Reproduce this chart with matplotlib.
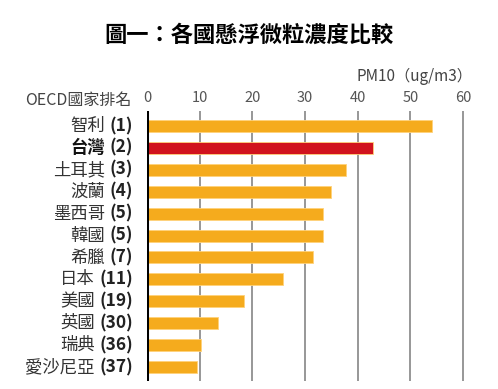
import matplotlib.pyplot as plt

plt.rcParams['font.family'] = ['Noto Sans CJK TC', 'DejaVu Sans']

countries = ['智利', '台灣', '土耳其', '波蘭', '墨西哥', '韓國', '希臘', '日本', '美國', '英國', '瑞典', '愛沙尼亞']
ranks = ['(1)', '(2)', '(3)', '(4)', '(5)', '(5)', '(7)', '(11)', '(19)', '(30)', '(36)', '(37)']
pm10 = [54.2, 42.9, 37.7, 35.0, 33.4, 33.4, 31.6, 25.9, 18.5, 13.4, 10.3, 9.5]
ticks = [0, 10, 20, 30, 40, 50, 60]

orange = '#F5AB1D'
red = '#D1131D'

W, H = 498, 389
fig = plt.figure(figsize=(W / 100, H / 100), dpi=100)

# axes placed in pixel terms: x=0 at 147px, 60 units = 316px
left_px, top_px, bot_px = 147, 111, 381
unit = 316 / 60
xmax = 62
ax = fig.add_axes([left_px / W, 1 - bot_px / H, unit * xmax / W, (bot_px - top_px) / H])

ypos = list(range(len(countries)))
colors = [red if c == '台灣' else orange for c in countries]
ax.barh(ypos, pm10, height=0.55, color=colors, edgecolor='#FFD27A', linewidth=0.6, zorder=3)

ax.set_xlim(0, xmax)
ax.set_ylim(11.64, -0.685)
for t in ticks[1:]:
    ax.axvline(t, color='#7a7a7a', lw=1.1, zorder=1)
ax.axvline(0, color='black', lw=2.2, zorder=4)

for s in ax.spines.values():
    s.set_visible(False)
ax.set_yticks([])
ax.set_xticks(ticks)
ax.xaxis.tick_top()
ax.tick_params(axis='x', length=0, pad=4, labelsize=10.5, labelcolor='#555555')

# row labels: name regular, rank bold (Taiwan fully bold)
fig.canvas.draw()
renderer = fig.canvas.get_renderer()
for i, (name, rank) in enumerate(zip(countries, ranks)):
    rt = ax.text(-2.6, i, rank, ha='right', va='center', fontsize=12.5,
                 fontweight='bold', color='#222222', transform=ax.transData)
    bb = rt.get_window_extent(renderer)
    xd = ax.transData.inverted().transform((bb.x0, 0))[0]
    w = 'bold' if name == '台灣' else 'normal'
    ax.text(xd - 0.9, i, name, ha='right', va='center', fontsize=12.5,
            fontweight=w, color='#111111' if w == 'bold' else '#333333')

fig.text(0.5, 1 - 35 / H, '圖一：各國懸浮微粒濃度比較', ha='center', va='center',
         fontsize=16, fontweight='bold', color='black')
fig.text(472 / W, 1 - 76 / H, 'PM10（ug/m3）', ha='right', va='center',
         fontsize=11, color='#444444')
fig.text(131 / W, 1 - 100 / H, 'OECD國家排名', ha='right', va='center',
         fontsize=11.5, color='#444444')

fig.savefig('out.png', dpi=100)
